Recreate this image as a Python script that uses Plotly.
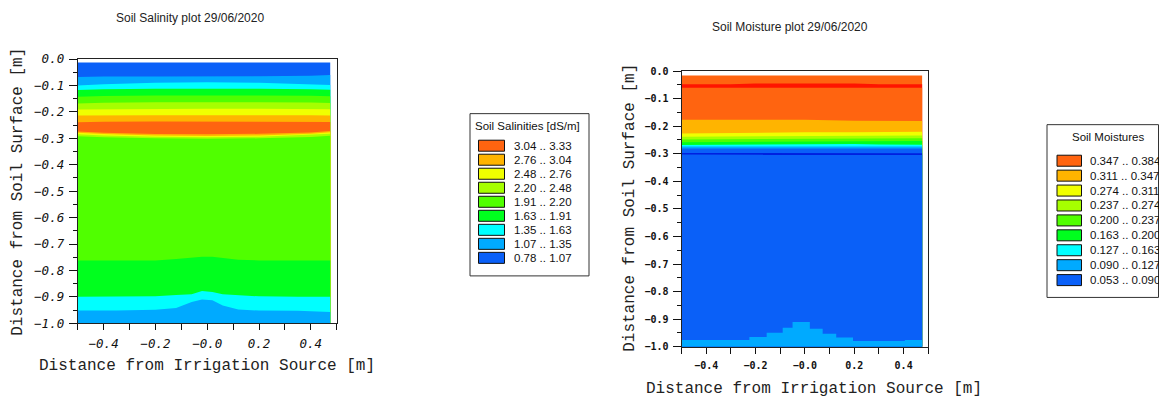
import plotly.graph_objects as go

# ---------------- figure size ----------------
W, H = 1159, 399

# ---------------- legend classes (high -> low) ----------------
CLASS_COLORS = ["#ff6410", "#ffb400", "#f0ff00", "#a6ff00", "#50ff00",
                "#00ff1e", "#00ffff", "#00aaff", "#0a60f8"]
RED_LINE_COLOR = "#ff1400"
DARK_LINE_COLOR = "#0020e0"

SAL_LEGEND_TITLE = "Soil Salinities [dS/m]"
SAL_LABELS = ["3.04 .. 3.33", "2.76 .. 3.04", "2.48 .. 2.76", "2.20 .. 2.48",
              "1.91 .. 2.20", "1.63 .. 1.91", "1.35 .. 1.63", "1.07 .. 1.35",
              "0.78 .. 1.07"]
MOI_LEGEND_TITLE = "Soil Moistures"
MOI_LABELS = ["0.347 .. 0.384", "0.311 .. 0.347", "0.274 .. 0.311",
              "0.237 .. 0.274", "0.200 .. 0.237", "0.163 .. 0.200",
              "0.127 .. 0.163", "0.090 .. 0.127", "0.053 .. 0.090"]

SAL_TITLE = "Soil Salinity plot 29/06/2020"
MOI_TITLE = "Soil Moisture plot 29/06/2020"
X_TITLE = "Distance from Irrigation Source [m]"
Y_TITLE = "Distance from Soil Surface [m]"

# ---------------- ticks ----------------
X_TICK_VALS = [-0.5, -0.4, -0.3, -0.2, -0.1, 0.0, 0.1, 0.2, 0.3, 0.4, 0.5]
X_TICK_TEXT = ["", "\u22120.4", "", "\u22120.2", "", "\u22120.0", "", "0.2", "", "0.4", ""]
Y_TICK_VALS = [0.0, -0.1, -0.2, -0.3, -0.4, -0.5, -0.6, -0.7, -0.8, -0.9, -1.0]
Y_TICK_TEXT = ["0.0", "\u22120.1", "\u22120.2", "\u22120.3", "\u22120.4", "\u22120.5",
               "\u22120.6", "\u22120.7", "\u22120.8", "\u22120.9", "\u22121.0"]
Y_MINOR_VALS = [-0.05, -0.15, -0.25, -0.35, -0.45, -0.55, -0.65, -0.75, -0.85, -0.95]

# ---------------- salinity field: upper boundary of each band (top -> bottom) ----------------
SAL_X_TOP = [-0.5, -0.4, -0.2, 0.0, 0.2, 0.4, 0.475]
SAL_TOP_CLASSES = [8, 7, 6, 5, 4, 3, 2, 1, 0, 1, 2, 3, 4]
SAL_TOP_UPPER = [
    [-0.013, -0.013, -0.013, -0.013, -0.013, -0.013, -0.013],
    [-0.068, -0.066, -0.066, -0.066, -0.065, -0.063, -0.060],
    [-0.100, -0.095, -0.090, -0.088, -0.090, -0.094, -0.098],
    [-0.117, -0.114, -0.112, -0.111, -0.112, -0.114, -0.116],
    [-0.143, -0.140, -0.138, -0.137, -0.138, -0.139, -0.141],
    [-0.168, -0.165, -0.163, -0.162, -0.163, -0.164, -0.166],
    [-0.191, -0.190, -0.188, -0.188, -0.188, -0.189, -0.190],
    [-0.214, -0.213, -0.213, -0.213, -0.212, -0.213, -0.214],
    [-0.239, -0.237, -0.236, -0.236, -0.236, -0.237, -0.238],
    [-0.274, -0.279, -0.284, -0.285, -0.283, -0.278, -0.272],
    [-0.279, -0.284, -0.289, -0.291, -0.289, -0.283, -0.277],
    [-0.285, -0.289, -0.294, -0.296, -0.294, -0.288, -0.283],
    [-0.292, -0.296, -0.300, -0.302, -0.300, -0.295, -0.290],
]
SAL_X_BOT = [-0.5, -0.35, -0.2, -0.12, -0.06, -0.02, 0.02, 0.06, 0.12, 0.2, 0.35, 0.475]
SAL_BOT_CLASSES = [5, 6, 7]
SAL_BOT_UPPER = [
    [-0.762, -0.762, -0.762, -0.757, -0.752, -0.748, -0.748, -0.752, -0.760, -0.762, -0.762, -0.762],
    [-0.900, -0.900, -0.898, -0.893, -0.890, -0.878, -0.882, -0.890, -0.894, -0.898, -0.900, -0.900],
    [-0.952, -0.952, -0.949, -0.942, -0.920, -0.910, -0.913, -0.933, -0.948, -0.952, -0.953, -0.957],
]

# ---------------- moisture field ----------------
MOI_X_TOP = [-0.5, -0.3, -0.2, 0.0, 0.2, 0.3, 0.475]
# class index, or "red"/"dark" for the thin lines outside the legend range
MOI_TOP_CLASSES = [0, "red", 0, 1, 2, 3, 4, 5, 6, 7, 8, "dark", 8]
MOI_TOP_UPPER = [
    [-0.016, -0.016, -0.016, -0.016, -0.016, -0.016, -0.016],
    [-0.048, -0.048, -0.045, -0.045, -0.045, -0.048, -0.048],
    [-0.060, -0.060, -0.059, -0.059, -0.059, -0.060, -0.060],
    [-0.177, -0.177, -0.177, -0.177, -0.180, -0.181, -0.181],
    [-0.226, -0.224, -0.222, -0.222, -0.222, -0.221, -0.220],
    [-0.238, -0.237, -0.236, -0.236, -0.236, -0.235, -0.234],
    [-0.248, -0.247, -0.246, -0.246, -0.246, -0.245, -0.244],
    [-0.258, -0.257, -0.256, -0.256, -0.256, -0.255, -0.254],
    [-0.268, -0.267, -0.265, -0.265, -0.265, -0.266, -0.267],
    [-0.274, -0.274, -0.273, -0.273, -0.273, -0.274, -0.274],
    [-0.281, -0.281, -0.280, -0.280, -0.280, -0.281, -0.281],
    [-0.297, -0.297, -0.296, -0.296, -0.296, -0.297, -0.298],
    [-0.303, -0.303, -0.302, -0.302, -0.302, -0.303, -0.304],
]
MOI_X_BOT = [-0.5, -0.225, -0.155, -0.09, -0.05, 0.02, 0.072, 0.127, 0.195, 0.405, 0.475]
MOI_BOT_UPPER = [-0.976, -0.965, -0.949, -0.931, -0.910, -0.935, -0.953, -0.967, -0.979, -0.976, -0.976]
MOI_BOT_CLASS = 7

# ---------------- layout pixel geometry (target picture pixels) ----------------
SAL_BOX = (77.7, 336.7, 58.5, 322.3)   # left, right, top, bottom
MOI_BOX = (681.5, 928.3, 70.5, 345.7)
# vertical mapping observed in the rendering pipeline (page -> photo)
Y_OFF, Y_SCALE = 7.5, 0.961


def px(xp):
    return xp / W


def py(yp):
    return 1 - ((yp - Y_OFF) / Y_SCALE) / H


def color_of(c):
    if c == "red":
        return RED_LINE_COLOR
    if c == "dark":
        return DARK_LINE_COLOR
    return CLASS_COLORS[c]


fig = go.Figure()


def add_band(xs, upper, color, xa, ya, shape="linear"):
    bx = list(xs) + [xs[-1], xs[0]]
    by = list(upper) + [-1.0, -1.0]
    fig.add_trace(go.Scatter(x=bx, y=by, mode="lines", fill="toself",
                             fillcolor=color, line=dict(width=0, shape=shape),
                             hoverinfo="skip", showlegend=False,
                             xaxis=xa, yaxis=ya))


for cls, up in zip(SAL_TOP_CLASSES, SAL_TOP_UPPER):
    add_band(SAL_X_TOP, up, color_of(cls), "x", "y")
for cls, up in zip(SAL_BOT_CLASSES, SAL_BOT_UPPER):
    add_band(SAL_X_BOT, up, color_of(cls), "x", "y")

for cls, up in zip(MOI_TOP_CLASSES, MOI_TOP_UPPER):
    add_band(MOI_X_TOP, up, color_of(cls), "x2", "y2")
add_band(MOI_X_BOT, MOI_BOT_UPPER, color_of(MOI_BOT_CLASS), "x2", "y2", shape="hv")

# ---------------- axes ----------------
sal_tick_font = dict(family="DejaVu Sans Mono", size=12.5, color="#111", style="italic")
moi_tick_font = dict(family="DejaVu Sans Mono", size=10, color="#111", weight="bold")


def xaxis_cfg(box, font, ticklen):
    return dict(domain=[px(box[0]), px(box[1])], range=[-0.5, 0.5],
                tickmode="array", tickvals=X_TICK_VALS, ticktext=X_TICK_TEXT,
                ticks="outside", ticklen=ticklen, tickwidth=1, tickcolor="#111",
                showline=True, linecolor="#222", linewidth=1, mirror=True,
                showgrid=False, zeroline=False, tickfont=font,
                ticklabelstandoff=3, fixedrange=True)


def yaxis_cfg(box, font, anchor):
    return dict(domain=[py(box[3]), py(box[2])], range=[-1.0, 0.0],
                tickmode="array", tickvals=Y_TICK_VALS, ticktext=Y_TICK_TEXT,
                ticks="outside", ticklen=8, tickwidth=1, tickcolor="#111",
                minor=dict(tickmode="array", tickvals=Y_MINOR_VALS, ticks="outside",
                           ticklen=4, tickcolor="#111", showgrid=False),
                showline=True, linecolor="#222", linewidth=1, mirror=True,
                showgrid=False, zeroline=False, tickfont=font, anchor=anchor,
                ticklabelstandoff=2, fixedrange=True)


fig.update_layout(
    width=W, height=H, autosize=False,
    margin=dict(l=0, r=0, t=0, b=0),
    paper_bgcolor="white", plot_bgcolor="white",
    showlegend=False,
    xaxis=dict(xaxis_cfg(SAL_BOX, sal_tick_font, 6), anchor="y"),
    yaxis=yaxis_cfg(SAL_BOX, sal_tick_font, "x"),
    xaxis2=dict(xaxis_cfg(MOI_BOX, moi_tick_font, 6), anchor="y2"),
    yaxis2=yaxis_cfg(MOI_BOX, moi_tick_font, "x2"),
)

# ---------------- titles ----------------
ann = []
title_font = dict(family="Liberation Sans", size=12, color="#222")
axis_font = dict(family="Liberation Mono", size=16, color="#222")
ann.append(dict(text=SAL_TITLE, x=px(189.5), y=py(17), xref="paper", yref="paper",
                showarrow=False, xanchor="center", yanchor="middle", font=title_font))
ann.append(dict(text=MOI_TITLE, x=px(790), y=py(26), xref="paper", yref="paper",
                showarrow=False, xanchor="center", yanchor="middle", font=title_font))
ann.append(dict(text=X_TITLE, x=px(206.5), y=py(365), xref="paper", yref="paper",
                showarrow=False, xanchor="center", yanchor="middle", font=axis_font))
ann.append(dict(text=X_TITLE, x=px(814), y=py(388), xref="paper", yref="paper",
                showarrow=False, xanchor="center", yanchor="middle", font=axis_font))
ann.append(dict(text=Y_TITLE, x=px(18), y=py(191), xref="paper", yref="paper",
                showarrow=False, xanchor="center", yanchor="middle", textangle=-90,
                font=axis_font))
ann.append(dict(text=Y_TITLE, x=px(630), y=py(207), xref="paper", yref="paper",
                showarrow=False, xanchor="center", yanchor="middle", textangle=-90,
                font=axis_font))

# ---------------- legends (drawn boxes) ----------------
shapes = []
leg_font = dict(family="Liberation Sans", size=11.5, color="#111")


def draw_legend(box, title, title_xy, labels, sw_x, first_cy, step, sw_h, text_x):
    l, r, t, b = box
    shapes.append(dict(type="rect", xref="paper", yref="paper",
                       x0=px(l), x1=px(r), y0=py(b), y1=py(t),
                       line=dict(color="#333", width=1), fillcolor="white", layer="below"))
    ann.append(dict(text=title, x=px(title_xy[0]), y=py(title_xy[1]), xref="paper",
                    yref="paper", showarrow=False, xanchor="center", yanchor="middle",
                    font=leg_font))
    for i, lab in enumerate(labels):
        cy = first_cy + i * step
        shapes.append(dict(type="rect", xref="paper", yref="paper",
                           x0=px(sw_x[0]), x1=px(sw_x[1]),
                           y0=py(cy + sw_h / 2), y1=py(cy - sw_h / 2),
                           line=dict(color="#111", width=1), fillcolor=CLASS_COLORS[i]))
        ann.append(dict(text=lab, x=px(text_x), y=py(cy), xref="paper", yref="paper",
                        showarrow=False, xanchor="left", yanchor="middle", font=leg_font))


draw_legend((470, 589, 113, 275), SAL_LEGEND_TITLE, (527, 125), SAL_LABELS,
            (478.5, 504.5), 145, 14, 11, 512)
draw_legend((1047, 1158.5, 124, 296.5), MOI_LEGEND_TITLE, (1107.5, 136), MOI_LABELS,
            (1057, 1081.5), 160, 14.9, 11, 1088)

fig.update_layout(annotations=ann, shapes=shapes)

fig.write_html(
    "out.html",
    config={"displayModeBar": False, "responsive": False},
    post_script="document.documentElement.style.margin='0';"
                "document.body.style.margin='0';"
                "document.documentElement.style.overflow='hidden';"
                "document.body.style.overflow='hidden';"
                "var gd=document.getElementById('{plot_id}');"
                "gd.style.position='fixed';gd.style.top='0px';gd.style.left='0px';",
)
